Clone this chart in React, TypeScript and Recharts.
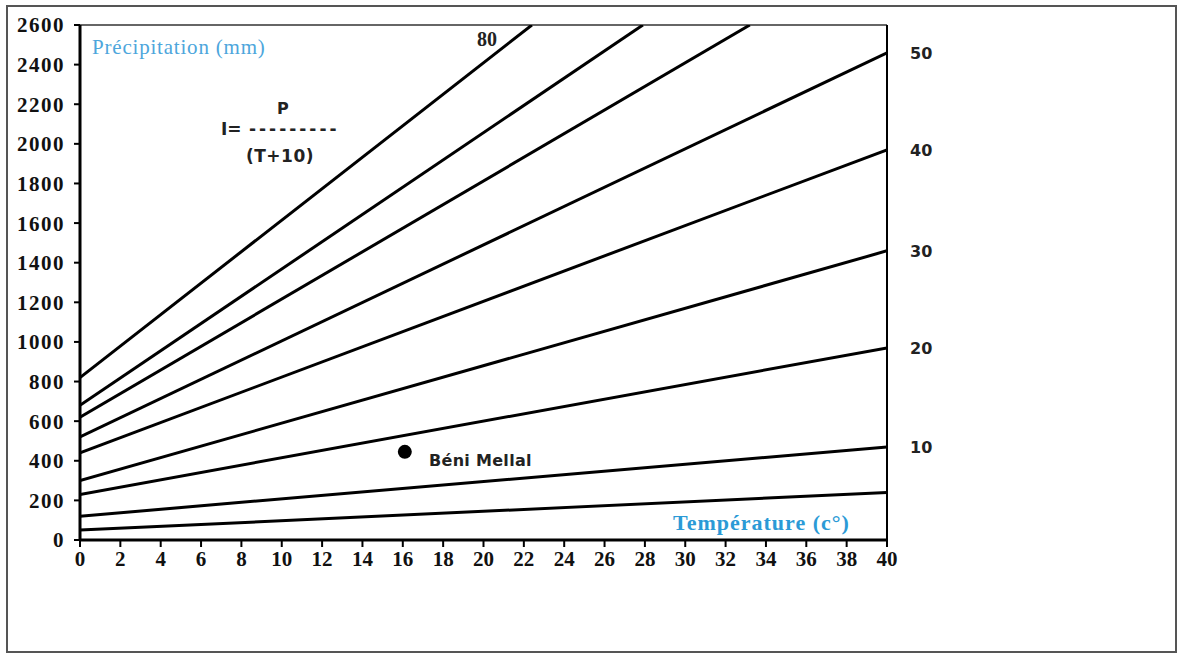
import React from 'react';
import {
  ComposedChart,
  Line,
  Scatter,
  XAxis,
  YAxis,
  ReferenceLine,
} from 'recharts';

// index lines P = I * (T + 10) (start at T=0, end at right edge or top)
const lineStartP = [50, 120, 230, 300, 440, 520, 620, 680, 820];
const lineEndT = [40, 40, 40, 40, 40, 40, 33.2, 27.9, 22.4];
const lineEndP = [240, 470, 970, 1460, 1970, 2460, 2600, 2600, 2600];
const lineLabels = ['', '10', '20', '30', '40', '50', '', '', '80'];

const xTicks = [0, 2, 4, 6, 8, 10, 12, 14, 16, 18, 20, 22, 24, 26, 28, 30, 32, 34, 36, 38, 40];
const yTicks = [0, 200, 400, 600, 800, 1000, 1200, 1400, 1600, 1800, 2000, 2200, 2400, 2600];

const stationName = 'Béni Mellal';
const stationT = 16.1;
const stationP = 445;

const series = lineStartP.map((p0, i) => ({
  id: `I${i}`,
  label: lineLabels[i],
  atTop: lineEndT[i] < 40,
  data: [
    { t: 0, p: p0 },
    { t: lineEndT[i], p: lineEndP[i] },
  ],
}));

const station = [{ t: stationT, p: stationP, name: stationName }];

const serif = '"Liberation Serif", "Times New Roman", serif';
const sans = '"DejaVu Sans", Verdana, sans-serif';

function endLabel(text: string, last: number, atTop: boolean) {
  return (props: any) => {
    if (!text || props.index !== last) return null;
    return (
      <text
        x={props.x + (atTop ? -55 : 23)}
        y={props.y + (atTop ? 21 : 6)}
        fontFamily={atTop ? serif : sans}
        fontWeight="bold"
        fontSize={atTop ? 20 : 16}
        fill="#222"
      >
        {text}
      </text>
    );
  };
}

export default function App() {
  return (
    <div style={{ position: 'absolute', left: 0, top: 0, width: 1178, height: 653, background: '#fff' }}>
      <div
        style={{
          position: 'absolute',
          left: 6,
          top: 5,
          width: 1167,
          height: 644,
          border: '2px solid #555',
        }}
      />
      <ComposedChart
        width={1178}
        height={653}
        margin={{ top: 25, right: 291, bottom: 83, left: 10 }}
        style={{ position: 'absolute', left: 0, top: 0 }}
      >
        <XAxis
          type="number"
          dataKey="t"
          domain={[0, 40]}
          ticks={xTicks}
          interval={0}
          height={30}
          axisLine={{ stroke: '#000', strokeWidth: 3 }}
          tickLine={{ stroke: '#000', strokeWidth: 2 }}
          tickSize={7}
          tickMargin={4}
          tick={{ fontFamily: serif, fontWeight: 'bold', fontSize: 21, fill: '#111' }}
          allowDataOverflow
        />
        <YAxis
          type="number"
          domain={[0, 2600]}
          ticks={yTicks}
          interval={0}
          width={70}
          axisLine={{ stroke: '#000', strokeWidth: 3 }}
          tickLine={{ stroke: '#000', strokeWidth: 2 }}
          tickSize={6}
          tickMargin={9}
          tick={{ fontFamily: serif, fontWeight: 'bold', fontSize: 21, fill: '#111', letterSpacing: 1.5 }}
          allowDataOverflow
        />
        <ReferenceLine y={2600} stroke="#666" strokeWidth={2} />
        <ReferenceLine x={40} stroke="#000" strokeWidth={2} />
        {series.map((s) => (
          <Line
            key={s.id}
            data={s.data}
            dataKey="p"
            type="linear"
            stroke="#000"
            strokeWidth={3}
            dot={false}
            activeDot={false}
            isAnimationActive={false}
            label={endLabel(s.label, s.data.length - 1, s.atTop)}
          />
        ))}
        <Scatter
          data={station}
          dataKey="p"
          fill="#000"
          isAnimationActive={false}
          shape={(props: any) => <circle cx={props.cx} cy={props.cy} r={7} fill="#000" />}
        />
      </ComposedChart>
      <svg
        width={1178}
        height={653}
        style={{ position: 'absolute', left: 0, top: 0, pointerEvents: 'none' }}
      >
        <text x={92} y={54} fontFamily={serif} fontSize={21} letterSpacing={0.8} fill="#4da6dc">
          Précipitation (mm)
        </text>
        <text x={673} y={530} fontFamily={serif} fontWeight="bold" fontSize={22} letterSpacing={1} fill="#2b9ad6">
          Température (c°)
        </text>
        <text x={221} y={135} fontFamily={sans} fontWeight="bold" fontSize={17} fill="#222">
          I=
        </text>
        <text x={277} y={114} fontFamily={sans} fontWeight="bold" fontSize={16} fill="#222">
          P
        </text>
        <text x={249} y={135} fontFamily={sans} fontWeight="bold" fontSize={17} letterSpacing={3} fill="#222">
          ---------
        </text>
        <text x={246} y={162} fontFamily={sans} fontWeight="bold" fontSize={17} letterSpacing={0.5} fill="#222">
          (T+10)
        </text>
        <text x={429} y={466} fontFamily={sans} fontWeight="bold" fontSize={16} letterSpacing={0.3} fill="#222">
          {stationName}
        </text>
      </svg>
    </div>
  );
}
